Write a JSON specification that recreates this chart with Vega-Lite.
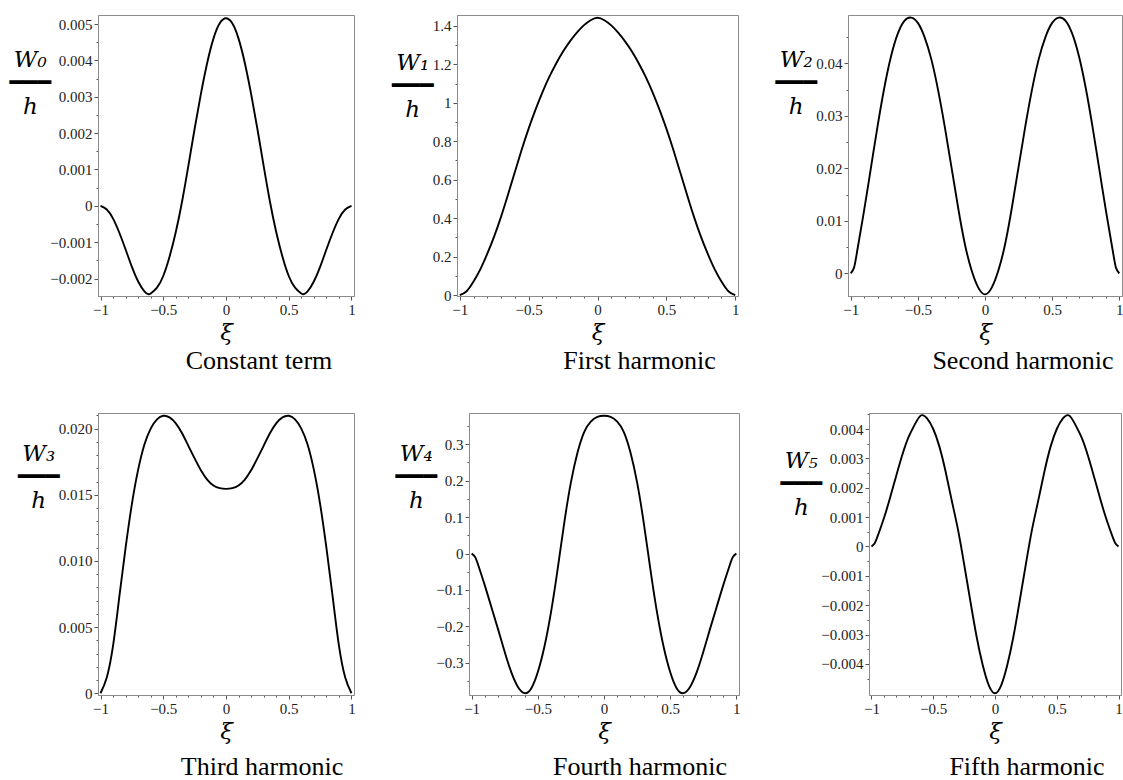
{
  "$schema": "https://vega.github.io/schema/vega-lite/v6.json",
  "background": "white",
  "padding": {"left": 8, "top": 13, "right": 0, "bottom": 0},
  "config": {
    "view": {"stroke": "#8c8c8c", "strokeWidth": 1},
    "axis": {"labelFont": "Liberation Serif", "labelFontSize": 15, "labelColor": "#222", "domainColor": "#8c8c8c", "tickColor": "#555", "grid": false, "labelPadding": 2, "labelOverlap": false, "labelFlush": false, "titleColor": "#000", "titleFont": "DejaVu Serif", "titleFontStyle": "italic", "titleFontWeight": "normal", "titleFontSize": 26},
    "axisX": {"titlePadding": 4, "titleFontSize": 23},
    "axisY": {"titleAngle": 0, "titleAlign": "center", "titleBaseline": "top", "titleFontSize": 23, "titleLineHeight": 23.5, "titlePadding": -27},
    "title": {"font": "Liberation Serif", "fontSize": 26, "fontWeight": "normal", "color": "#000", "orient": "bottom", "frame": "group", "anchor": "middle", "baseline": "top"},
    "line": {"color": "#000", "strokeWidth": 1.9, "interpolate": "natural"}
  },
  "spacing": 31,
  "vconcat": [
    {
      "spacing": 34,
      "hconcat": [
        {
          "width": 256, "height": 281,
          "data": {"name": "w0"},
          "title": {"text": "Constant term", "dx": 33, "offset": 4},
          "mark": "line",
          "encoding": {
            "x": {"field": "xi", "type": "quantitative", "scale": {"domain": [-1.02, 1.02], "nice": false, "zero": false},
                  "axis": {"title": "ξ", "values": [-1,-0.9,-0.8,-0.7,-0.6,-0.5,-0.4,-0.3,-0.2,-0.1,0,0.1,0.2,0.3,0.4,0.5,0.6,0.7,0.8,0.9,1],
                           "labelExpr": "abs(datum.value*2-round(datum.value*2))<1e-6 ? format(datum.value,'~g') : ''",
                           "tickSize": {"condition": {"test": "abs(datum.value*2-round(datum.value*2))<1e-6", "value": 4}, "value": 2}}},
            "y": {"field": "w", "type": "quantitative", "scale": {"domain": [-0.00248, 0.00525], "nice": false, "zero": false},
                  "axis": {"title": ["W₀", "━━━", "h"], "titleY": 33,
                           "values": [-0.002,-0.0015,-0.001,-0.0005,0,0.0005,0.001,0.0015,0.002,0.0025,0.003,0.0035,0.004,0.0045,0.005],
                           "labelExpr": "abs(datum.value*1000-round(datum.value*1000))<1e-6 ? format(datum.value,'~g') : ''",
                           "tickSize": {"condition": {"test": "abs(datum.value*1000-round(datum.value*1000))<1e-6", "value": 4}, "value": 2}}}
          }
        },
        {
          "width": 281, "height": 281,
          "data": {"name": "w1"},
          "title": {"text": "First harmonic", "dx": 42, "offset": 4},
          "mark": "line",
          "encoding": {
            "x": {"field": "xi", "type": "quantitative", "scale": {"domain": [-1.02, 1.02], "nice": false, "zero": false},
                  "axis": {"title": "ξ", "values": [-1,-0.9,-0.8,-0.7,-0.6,-0.5,-0.4,-0.3,-0.2,-0.1,0,0.1,0.2,0.3,0.4,0.5,0.6,0.7,0.8,0.9,1],
                           "labelExpr": "abs(datum.value*2-round(datum.value*2))<1e-6 ? format(datum.value,'~g') : ''",
                           "tickSize": {"condition": {"test": "abs(datum.value*2-round(datum.value*2))<1e-6", "value": 4}, "value": 2}}},
            "y": {"field": "w", "type": "quantitative", "scale": {"domain": [-0.005, 1.457], "nice": false, "zero": false},
                  "axis": {"title": ["W₁", "━━━", "h"], "titleY": 36,
                           "values": [0,0.1,0.2,0.3,0.4,0.5,0.6,0.7,0.8,0.9,1,1.1,1.2,1.3,1.4],
                           "labelExpr": "abs(datum.value*5-round(datum.value*5))<1e-6 ? format(datum.value,'~g') : ''",
                           "tickSize": {"condition": {"test": "abs(datum.value*5-round(datum.value*5))<1e-6", "value": 4}, "value": 2}}}
          }
        },
        {
          "width": 274, "height": 281,
          "data": {"name": "w2"},
          "title": {"text": "Second harmonic", "dx": 38, "offset": 4},
          "mark": "line",
          "encoding": {
            "x": {"field": "xi", "type": "quantitative", "scale": {"domain": [-1.02, 1.02], "nice": false, "zero": false},
                  "axis": {"title": "ξ", "values": [-1,-0.9,-0.8,-0.7,-0.6,-0.5,-0.4,-0.3,-0.2,-0.1,0,0.1,0.2,0.3,0.4,0.5,0.6,0.7,0.8,0.9,1],
                           "labelExpr": "abs(datum.value*2-round(datum.value*2))<1e-6 ? format(datum.value,'~g') : ''",
                           "tickSize": {"condition": {"test": "abs(datum.value*2-round(datum.value*2))<1e-6", "value": 4}, "value": 2}}},
            "y": {"field": "w", "type": "quantitative", "scale": {"domain": [-0.0043, 0.0492], "nice": false, "zero": false},
                  "axis": {"title": ["W₂", "━━━", "h"], "titleY": 33,
                           "values": [0,0.005,0.01,0.015,0.02,0.025,0.03,0.035,0.04,0.045],
                           "labelExpr": "abs(datum.value*100-round(datum.value*100))<1e-6 ? format(datum.value,'~g') : ''",
                           "tickSize": {"condition": {"test": "abs(datum.value*100-round(datum.value*100))<1e-6", "value": 4}, "value": 2}}}
          }
        }
      ]
    },
    {
      "spacing": 38,
      "hconcat": [
        {
          "width": 256, "height": 282,
          "data": {"name": "w3"},
          "title": {"text": "Third harmonic", "dx": 36, "offset": 11},
          "mark": "line",
          "encoding": {
            "x": {"field": "xi", "type": "quantitative", "scale": {"domain": [-1.02, 1.02], "nice": false, "zero": false},
                  "axis": {"title": "ξ", "values": [-1,-0.9,-0.8,-0.7,-0.6,-0.5,-0.4,-0.3,-0.2,-0.1,0,0.1,0.2,0.3,0.4,0.5,0.6,0.7,0.8,0.9,1],
                           "labelExpr": "abs(datum.value*2-round(datum.value*2))<1e-6 ? format(datum.value,'~g') : ''",
                           "tickSize": {"condition": {"test": "abs(datum.value*2-round(datum.value*2))<1e-6", "value": 4}, "value": 2}}},
            "y": {"field": "w", "type": "quantitative", "scale": {"domain": [-0.00013, 0.02118], "nice": false, "zero": false},
                  "axis": {"title": ["W₃", "━━━", "h"], "titleY": 29,
                           "values": [0,0.001,0.002,0.003,0.004,0.005,0.006,0.007,0.008,0.009,0.01,0.011,0.012,0.013,0.014,0.015,0.016,0.017,0.018,0.019,0.02,0.021],
                           "labelExpr": "abs(datum.value*200-round(datum.value*200))<1e-6 ? (datum.value==0 ? '0' : format(datum.value,'.3f')) : ''",
                           "tickSize": {"condition": {"test": "abs(datum.value*200-round(datum.value*200))<1e-6", "value": 4}, "value": 2}}}
          }
        },
        {
          "width": 270, "height": 282,
          "data": {"name": "w4"},
          "title": {"text": "Fourth harmonic", "dx": 36, "offset": 11},
          "mark": "line",
          "encoding": {
            "x": {"field": "xi", "type": "quantitative", "scale": {"domain": [-1.02, 1.02], "nice": false, "zero": false},
                  "axis": {"title": "ξ", "values": [-1,-0.9,-0.8,-0.7,-0.6,-0.5,-0.4,-0.3,-0.2,-0.1,0,0.1,0.2,0.3,0.4,0.5,0.6,0.7,0.8,0.9,1],
                           "labelExpr": "abs(datum.value*2-round(datum.value*2))<1e-6 ? format(datum.value,'~g') : ''",
                           "tickSize": {"condition": {"test": "abs(datum.value*2-round(datum.value*2))<1e-6", "value": 4}, "value": 2}}},
            "y": {"field": "w", "type": "quantitative", "scale": {"domain": [-0.388, 0.3854], "nice": false, "zero": false},
                  "axis": {"title": ["W₄", "━━━", "h"], "titleY": 29,
                           "values": [-0.35,-0.3,-0.25,-0.2,-0.15,-0.1,-0.05,0,0.05,0.1,0.15,0.2,0.25,0.3,0.35],
                           "labelExpr": "abs(datum.value*10-round(datum.value*10))<1e-6 ? format(datum.value,'~g') : ''",
                           "tickSize": {"condition": {"test": "abs(datum.value*10-round(datum.value*10))<1e-6", "value": 4}, "value": 2}}}
          }
        },
        {
          "width": 252, "height": 282,
          "data": {"name": "w5"},
          "title": {"text": "Fifth harmonic", "dx": 32, "offset": 11},
          "mark": "line",
          "encoding": {
            "x": {"field": "xi", "type": "quantitative", "scale": {"domain": [-1.02, 1.02], "nice": false, "zero": false},
                  "axis": {"title": "ξ", "values": [-1,-0.9,-0.8,-0.7,-0.6,-0.5,-0.4,-0.3,-0.2,-0.1,0,0.1,0.2,0.3,0.4,0.5,0.6,0.7,0.8,0.9,1],
                           "labelExpr": "abs(datum.value*2-round(datum.value*2))<1e-6 ? format(datum.value,'~g') : ''",
                           "tickSize": {"condition": {"test": "abs(datum.value*2-round(datum.value*2))<1e-6", "value": 4}, "value": 2}}},
            "y": {"field": "w", "type": "quantitative", "scale": {"domain": [-0.00506, 0.004545], "nice": false, "zero": false},
                  "axis": {"title": ["W₅", "━━━", "h"], "titleY": 36,
                           "values": [-0.0045,-0.004,-0.0035,-0.003,-0.0025,-0.002,-0.0015,-0.001,-0.0005,0,0.0005,0.001,0.0015,0.002,0.0025,0.003,0.0035,0.004,0.0045],
                           "labelExpr": "abs(datum.value*1000-round(datum.value*1000))<1e-6 ? format(datum.value,'~g') : ''",
                           "tickSize": {"condition": {"test": "abs(datum.value*1000-round(datum.value*1000))<1e-6", "value": 4}, "value": 2}}}
          }
        }
      ]
    }
  ],
  "datasets": {
    "w0": [
      {"xi": -1, "w": 0}, {"xi": -0.95, "w": -0.0001}, {"xi": -0.9, "w": -0.00035}, {"xi": -0.85, "w": -0.00074},
      {"xi": -0.8, "w": -0.0012}, {"xi": -0.75, "w": -0.00168}, {"xi": -0.7, "w": -0.00208}, {"xi": -0.65, "w": -0.00235},
      {"xi": -0.62, "w": -0.00243}, {"xi": -0.6, "w": -0.00241}, {"xi": -0.55, "w": -0.00225}, {"xi": -0.5, "w": -0.00193},
      {"xi": -0.45, "w": -0.0014}, {"xi": -0.4, "w": -0.00072}, {"xi": -0.35, "w": 0.00012}, {"xi": -0.3, "w": 0.0011},
      {"xi": -0.25, "w": 0.00212}, {"xi": -0.2, "w": 0.00308}, {"xi": -0.15, "w": 0.00393}, {"xi": -0.1, "w": 0.0046},
      {"xi": -0.05, "w": 0.00502}, {"xi": 0, "w": 0.00516},
      {"xi": 0.05, "w": 0.00502}, {"xi": 0.1, "w": 0.0046}, {"xi": 0.15, "w": 0.00393}, {"xi": 0.2, "w": 0.00308},
      {"xi": 0.25, "w": 0.00212}, {"xi": 0.3, "w": 0.0011}, {"xi": 0.35, "w": 0.00012}, {"xi": 0.4, "w": -0.00072},
      {"xi": 0.45, "w": -0.0014}, {"xi": 0.5, "w": -0.00193}, {"xi": 0.55, "w": -0.00225}, {"xi": 0.6, "w": -0.00241},
      {"xi": 0.62, "w": -0.00243}, {"xi": 0.65, "w": -0.00235}, {"xi": 0.7, "w": -0.00208}, {"xi": 0.75, "w": -0.00168},
      {"xi": 0.8, "w": -0.0012}, {"xi": 0.85, "w": -0.00074}, {"xi": 0.9, "w": -0.00035}, {"xi": 0.95, "w": -0.0001},
      {"xi": 1, "w": 0}
    ],
    "w1": [
      {"xi": -1, "w": 0}, {"xi": -0.95, "w": 0.02}, {"xi": -0.9, "w": 0.07}, {"xi": -0.85, "w": 0.135},
      {"xi": -0.8, "w": 0.215}, {"xi": -0.75, "w": 0.305}, {"xi": -0.7, "w": 0.408}, {"xi": -0.65, "w": 0.522},
      {"xi": -0.6, "w": 0.64}, {"xi": -0.55, "w": 0.757}, {"xi": -0.5, "w": 0.866}, {"xi": -0.45, "w": 0.965},
      {"xi": -0.4, "w": 1.055}, {"xi": -0.35, "w": 1.135}, {"xi": -0.3, "w": 1.205}, {"xi": -0.25, "w": 1.267},
      {"xi": -0.2, "w": 1.32}, {"xi": -0.15, "w": 1.365}, {"xi": -0.1, "w": 1.403}, {"xi": -0.05, "w": 1.43},
      {"xi": 0, "w": 1.443},
      {"xi": 0.05, "w": 1.43}, {"xi": 0.1, "w": 1.403}, {"xi": 0.15, "w": 1.365}, {"xi": 0.2, "w": 1.32},
      {"xi": 0.25, "w": 1.267}, {"xi": 0.3, "w": 1.205}, {"xi": 0.35, "w": 1.135}, {"xi": 0.4, "w": 1.055},
      {"xi": 0.45, "w": 0.965}, {"xi": 0.5, "w": 0.866}, {"xi": 0.55, "w": 0.757}, {"xi": 0.6, "w": 0.64},
      {"xi": 0.65, "w": 0.522}, {"xi": 0.7, "w": 0.408}, {"xi": 0.75, "w": 0.305}, {"xi": 0.8, "w": 0.215},
      {"xi": 0.85, "w": 0.135}, {"xi": 0.9, "w": 0.07}, {"xi": 0.95, "w": 0.02}, {"xi": 1, "w": 0}
    ],
    "w2": [
      {"xi": -1, "w": 0}, {"xi": -0.975, "w": 0.0011}, {"xi": -0.95, "w": 0.0045}, {"xi": -0.9, "w": 0.012}, {"xi": -0.85, "w": 0.02},
      {"xi": -0.8, "w": 0.028}, {"xi": -0.75, "w": 0.0353}, {"xi": -0.7, "w": 0.0413}, {"xi": -0.65, "w": 0.0456},
      {"xi": -0.6, "w": 0.0481}, {"xi": -0.55, "w": 0.0487}, {"xi": -0.5, "w": 0.0477}, {"xi": -0.45, "w": 0.045},
      {"xi": -0.4, "w": 0.0408}, {"xi": -0.35, "w": 0.035}, {"xi": -0.3, "w": 0.028}, {"xi": -0.25, "w": 0.0203},
      {"xi": -0.2, "w": 0.0125}, {"xi": -0.15, "w": 0.0056}, {"xi": -0.1, "w": 0.0006}, {"xi": -0.05, "w": -0.0027},
      {"xi": 0, "w": -0.004},
      {"xi": 0.05, "w": -0.0027}, {"xi": 0.1, "w": 0.0006}, {"xi": 0.15, "w": 0.0056}, {"xi": 0.2, "w": 0.0125},
      {"xi": 0.25, "w": 0.0203}, {"xi": 0.3, "w": 0.028}, {"xi": 0.35, "w": 0.035}, {"xi": 0.4, "w": 0.0408},
      {"xi": 0.45, "w": 0.045}, {"xi": 0.5, "w": 0.0477}, {"xi": 0.55, "w": 0.0487}, {"xi": 0.6, "w": 0.0481},
      {"xi": 0.65, "w": 0.0456}, {"xi": 0.7, "w": 0.0413}, {"xi": 0.75, "w": 0.0353}, {"xi": 0.8, "w": 0.028},
      {"xi": 0.85, "w": 0.02}, {"xi": 0.9, "w": 0.012}, {"xi": 0.95, "w": 0.0045}, {"xi": 0.975, "w": 0.0011}, {"xi": 1, "w": 0}
    ],
    "w3": [
      {"xi": -1, "w": 0}, {"xi": -0.95, "w": 0.0012}, {"xi": -0.9, "w": 0.0036}, {"xi": -0.85, "w": 0.0073},
      {"xi": -0.8, "w": 0.011}, {"xi": -0.75, "w": 0.0143}, {"xi": -0.7, "w": 0.0169}, {"xi": -0.65, "w": 0.0188},
      {"xi": -0.6, "w": 0.02}, {"xi": -0.55, "w": 0.0207}, {"xi": -0.5, "w": 0.02097}, {"xi": -0.45, "w": 0.02085},
      {"xi": -0.4, "w": 0.0204}, {"xi": -0.35, "w": 0.01965}, {"xi": -0.3, "w": 0.0187}, {"xi": -0.25, "w": 0.01775},
      {"xi": -0.2, "w": 0.01685}, {"xi": -0.15, "w": 0.01615}, {"xi": -0.1, "w": 0.0157}, {"xi": -0.05, "w": 0.0155},
      {"xi": 0, "w": 0.01545},
      {"xi": 0.05, "w": 0.0155}, {"xi": 0.1, "w": 0.0157}, {"xi": 0.15, "w": 0.01615}, {"xi": 0.2, "w": 0.01685},
      {"xi": 0.25, "w": 0.01775}, {"xi": 0.3, "w": 0.0187}, {"xi": 0.35, "w": 0.01965}, {"xi": 0.4, "w": 0.0204},
      {"xi": 0.45, "w": 0.02085}, {"xi": 0.5, "w": 0.02097}, {"xi": 0.55, "w": 0.0207}, {"xi": 0.6, "w": 0.02},
      {"xi": 0.65, "w": 0.0188}, {"xi": 0.7, "w": 0.0169}, {"xi": 0.75, "w": 0.0143}, {"xi": 0.8, "w": 0.011},
      {"xi": 0.85, "w": 0.0073}, {"xi": 0.9, "w": 0.0036}, {"xi": 0.95, "w": 0.0012}, {"xi": 1, "w": 0}
    ],
    "w4": [
      {"xi": -1, "w": 0}, {"xi": -0.975, "w": -0.009}, {"xi": -0.95, "w": -0.032}, {"xi": -0.9, "w": -0.088}, {"xi": -0.85, "w": -0.148},
      {"xi": -0.8, "w": -0.208}, {"xi": -0.75, "w": -0.27}, {"xi": -0.7, "w": -0.326}, {"xi": -0.65, "w": -0.366},
      {"xi": -0.6, "w": -0.383}, {"xi": -0.55, "w": -0.37}, {"xi": -0.5, "w": -0.325}, {"xi": -0.45, "w": -0.255},
      {"xi": -0.4, "w": -0.16}, {"xi": -0.35, "w": -0.042}, {"xi": -0.3, "w": 0.085}, {"xi": -0.25, "w": 0.195},
      {"xi": -0.2, "w": 0.277}, {"xi": -0.15, "w": 0.333}, {"xi": -0.1, "w": 0.362}, {"xi": -0.05, "w": 0.375},
      {"xi": 0, "w": 0.378},
      {"xi": 0.05, "w": 0.375}, {"xi": 0.1, "w": 0.362}, {"xi": 0.15, "w": 0.333}, {"xi": 0.2, "w": 0.277},
      {"xi": 0.25, "w": 0.195}, {"xi": 0.3, "w": 0.085}, {"xi": 0.35, "w": -0.042}, {"xi": 0.4, "w": -0.16},
      {"xi": 0.45, "w": -0.255}, {"xi": 0.5, "w": -0.325}, {"xi": 0.55, "w": -0.37}, {"xi": 0.6, "w": -0.383},
      {"xi": 0.65, "w": -0.366}, {"xi": 0.7, "w": -0.326}, {"xi": 0.75, "w": -0.27}, {"xi": 0.8, "w": -0.208},
      {"xi": 0.85, "w": -0.148}, {"xi": 0.9, "w": -0.088}, {"xi": 0.95, "w": -0.032}, {"xi": 0.975, "w": -0.009}, {"xi": 1, "w": 0}
    ],
    "w5": [
      {"xi": -1, "w": 0}, {"xi": -0.975, "w": 0.0001}, {"xi": -0.95, "w": 0.00035}, {"xi": -0.9, "w": 0.00095}, {"xi": -0.85, "w": 0.00165},
      {"xi": -0.8, "w": 0.0024}, {"xi": -0.75, "w": 0.00312}, {"xi": -0.7, "w": 0.00372}, {"xi": -0.65, "w": 0.00415},
      {"xi": -0.6, "w": 0.00446}, {"xi": -0.55, "w": 0.00436}, {"xi": -0.5, "w": 0.004},
      {"xi": -0.45, "w": 0.0034}, {"xi": -0.4, "w": 0.00255}, {"xi": -0.35, "w": 0.00156}, {"xi": -0.3, "w": 0.00058},
      {"xi": -0.25, "w": -0.0006}, {"xi": -0.2, "w": -0.00185}, {"xi": -0.15, "w": -0.00305}, {"xi": -0.1, "w": -0.00403},
      {"xi": -0.05, "w": -0.00473}, {"xi": 0, "w": -0.005},
      {"xi": 0.05, "w": -0.00473}, {"xi": 0.1, "w": -0.00403}, {"xi": 0.15, "w": -0.00305}, {"xi": 0.2, "w": -0.00185},
      {"xi": 0.25, "w": -0.0006}, {"xi": 0.3, "w": 0.00058}, {"xi": 0.35, "w": 0.00156}, {"xi": 0.4, "w": 0.00255},
      {"xi": 0.45, "w": 0.0034}, {"xi": 0.5, "w": 0.004}, {"xi": 0.55, "w": 0.00436},
      {"xi": 0.6, "w": 0.00446}, {"xi": 0.65, "w": 0.00415}, {"xi": 0.7, "w": 0.00372}, {"xi": 0.75, "w": 0.00312},
      {"xi": 0.8, "w": 0.0024}, {"xi": 0.85, "w": 0.00165}, {"xi": 0.9, "w": 0.00095}, {"xi": 0.95, "w": 0.00035},
      {"xi": 0.975, "w": 0.0001}, {"xi": 1, "w": 0}
    ]
  }
}
